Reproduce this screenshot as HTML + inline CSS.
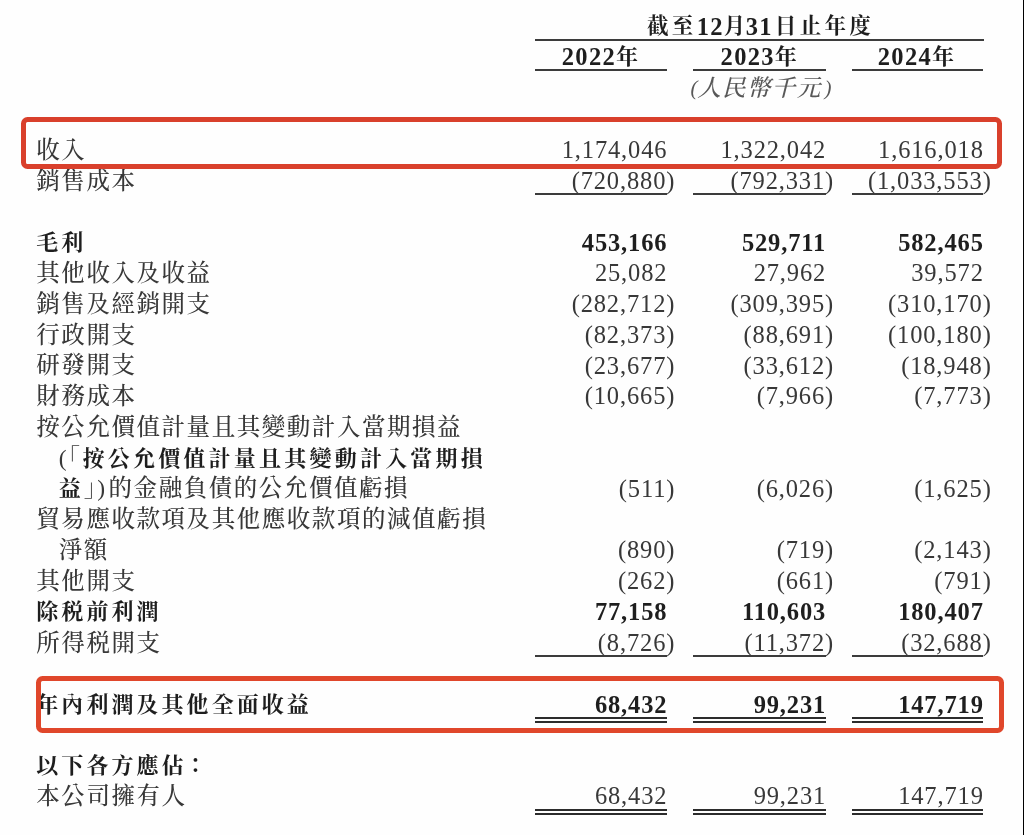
<!DOCTYPE html>
<html lang="zh-Hant">
<head>
<meta charset="utf-8">
<title>損益表</title>
<style>
html,body{margin:0;padding:0;}
body{width:1024px;height:835px;overflow:hidden;background:#fefefe;position:relative;
 font-family:"Liberation Serif","Noto Serif CJK SC",serif;color:#383838;font-size:23.5px;}
.pg{position:absolute;left:0;top:0;width:1024px;height:835px;filter:blur(0.45px)}
.t{position:absolute;white-space:nowrap;line-height:30px;height:30px;}
.l{letter-spacing:1.55px;font-weight:500}
.n{letter-spacing:0.85px;text-align:right;font-size:24.5px}
.b{font-weight:700;color:#1e1e1e}
.l.b,.l b{font-weight:700;color:#1e1e1e;font-size:22px;letter-spacing:3.05px}
.l b{position:relative;top:-0.1px}
.d{font-size:24.5px;letter-spacing:1.3px;position:relative;top:0.5px}
.p{font-size:21px;position:relative;top:-1px}
.co{position:relative;left:-2px;top:-0.5px}
.ln{position:absolute;height:2px;background:#3c3c3c;}
.box{position:absolute;border:5px solid #d9402c;border-radius:6.5px;box-sizing:border-box;}
.edge{position:absolute;right:0;top:0;width:1px;height:835px;background:#000}
</style>
</head>
<body>
<div class="pg">
<div class="t l b" style="font-size:21.5px;letter-spacing:3.35px;left:647px;top:10.23px;">截至<span class="d" style="top:1.5px">12</span>月<span class="d" style="top:1.5px;margin-left:-3px;margin-right:2px">31</span>日止年度</div>
<div class="ln" style="left:534.5px;top:38.5px;width:449px"></div>
<div class="t l b" style="left:561.8px;top:40.83px;"><span class="d" style="top:1.5px">2022</span>年</div>
<div class="ln" style="left:534.5px;top:69.3px;width:132.5px"></div>
<div class="t l b" style="left:720.6px;top:40.83px;"><span class="d" style="top:1.5px">2023</span>年</div>
<div class="ln" style="left:693px;top:69.3px;width:132.8px"></div>
<div class="t l b" style="left:877.8px;top:40.83px;"><span class="d" style="top:1.5px">2024</span>年</div>
<div class="ln" style="left:851.5px;top:69.3px;width:131.9px"></div>
<div class="t l" style="left:690.4px;top:72.57px;font-style:italic;color:#585858;letter-spacing:1.35px"><span class="p" style="margin-right:-1.5px">(</span>人民幣千元<span class="p" style="margin-left:3px">)</span></div>
<div class="t l" style="left:36.3px;top:135.22px;">收入</div>
<div class="t n" style="right:356.65px;top:135.28px;">1,174,046</div>
<div class="t n" style="right:197.85px;top:135.28px;">1,322,042</div>
<div class="t n" style="right:40.25px;top:135.28px;">1,616,018</div>
<div class="t l" style="left:36.3px;top:165.97px;">銷售成本</div>
<div class="t n" style="right:348.75px;top:166.03px;">(720,880)</div>
<div class="t n" style="right:189.95px;top:166.03px;">(792,331)</div>
<div class="t n" style="right:32.35px;top:166.03px;">(1,033,553)</div>
<div class="t l b" style="left:36.3px;top:227.88px;">毛利</div>
<div class="t n b" style="right:356.65px;top:227.53px;">453,166</div>
<div class="t n b" style="right:197.85px;top:227.53px;">529,711</div>
<div class="t n b" style="right:40.25px;top:227.53px;">582,465</div>
<div class="t l" style="left:36.3px;top:258.22px;">其他收入及收益</div>
<div class="t n" style="right:356.65px;top:258.28px;">25,082</div>
<div class="t n" style="right:197.85px;top:258.28px;">27,962</div>
<div class="t n" style="right:40.25px;top:258.28px;">39,572</div>
<div class="t l" style="left:36.3px;top:288.97px;">銷售及經銷開支</div>
<div class="t n" style="right:348.75px;top:289.03px;">(282,712)</div>
<div class="t n" style="right:189.95px;top:289.03px;">(309,395)</div>
<div class="t n" style="right:32.35px;top:289.03px;">(310,170)</div>
<div class="t l" style="left:36.3px;top:319.72px;">行政開支</div>
<div class="t n" style="right:348.75px;top:319.78px;">(82,373)</div>
<div class="t n" style="right:189.95px;top:319.78px;">(88,691)</div>
<div class="t n" style="right:32.35px;top:319.78px;">(100,180)</div>
<div class="t l" style="left:36.3px;top:350.47px;">研發開支</div>
<div class="t n" style="right:348.75px;top:350.53px;">(23,677)</div>
<div class="t n" style="right:189.95px;top:350.53px;">(33,612)</div>
<div class="t n" style="right:32.35px;top:350.53px;">(18,948)</div>
<div class="t l" style="left:36.3px;top:381.22px;">財務成本</div>
<div class="t n" style="right:348.75px;top:381.28px;">(10,665)</div>
<div class="t n" style="right:189.95px;top:381.28px;">(7,966)</div>
<div class="t n" style="right:32.35px;top:381.28px;">(7,773)</div>
<div class="t l" style="left:36.3px;top:411.97px;">按公允價值計量且其變動計入當期損益</div>
<div class="t l" style="left:58.8px;top:442.72px;">(「<b style="margin-left:1px;letter-spacing:3.22px">按公允價值計量且其變動計入當期損</b></div>
<div class="t l" style="left:58.8px;top:473.47px;"><b>益</b>」<span style="margin-right:2px">)</span>的金融負債的公允價值虧損</div>
<div class="t n" style="right:348.75px;top:473.53px;">(511)</div>
<div class="t n" style="right:189.95px;top:473.53px;">(6,026)</div>
<div class="t n" style="right:32.35px;top:473.53px;">(1,625)</div>
<div class="t l" style="left:36.3px;top:504.22px;">貿易應收款項及其他應收款項的減值虧損</div>
<div class="t l" style="left:58.8px;top:534.97px;">淨額</div>
<div class="t n" style="right:348.75px;top:535.03px;">(890)</div>
<div class="t n" style="right:189.95px;top:535.03px;">(719)</div>
<div class="t n" style="right:32.35px;top:535.03px;">(2,143)</div>
<div class="t l" style="left:36.3px;top:565.72px;">其他開支</div>
<div class="t n" style="right:348.75px;top:565.78px;">(262)</div>
<div class="t n" style="right:189.95px;top:565.78px;">(661)</div>
<div class="t n" style="right:32.35px;top:565.78px;">(791)</div>
<div class="t l b" style="left:36.3px;top:596.88px;">除税前利潤</div>
<div class="t n b" style="right:356.65px;top:596.53px;">77,158</div>
<div class="t n b" style="right:197.85px;top:596.53px;">110,603</div>
<div class="t n b" style="right:40.25px;top:596.53px;">180,407</div>
<div class="t l" style="left:36.3px;top:628.12px;">所得税開支</div>
<div class="t n" style="right:348.75px;top:628.18px;">(8,726)</div>
<div class="t n" style="right:189.95px;top:628.18px;">(11,372)</div>
<div class="t n" style="right:32.35px;top:628.18px;">(32,688)</div>
<div class="t l b" style="left:36.3px;top:690.02px;">年內利潤及其他全面收益</div>
<div class="t n b" style="right:356.65px;top:689.68px;">68,432</div>
<div class="t n b" style="right:197.85px;top:689.68px;">99,231</div>
<div class="t n b" style="right:40.25px;top:689.68px;">147,719</div>
<div class="t l b" style="left:36.3px;top:750.62px;">以下各方應佔<span class="co">：</span></div>
<div class="t l" style="left:36.3px;top:780.97px;">本公司擁有人</div>
<div class="t n" style="right:356.65px;top:781.03px;">68,432</div>
<div class="t n" style="right:197.85px;top:781.03px;">99,231</div>
<div class="t n" style="right:40.25px;top:781.03px;">147,719</div>
<div class="ln" style="left:534.5px;top:192.7px;width:132.5px"></div>
<div class="ln" style="left:534.5px;top:654.6px;width:132.5px"></div>
<div class="ln" style="left:534.5px;top:716.9px;width:132.5px;height:2.4px;background:#2c2c2c"></div>
<div class="ln" style="left:534.5px;top:720.7px;width:132.5px;height:2.4px;background:#2c2c2c"></div>
<div class="ln" style="left:534.5px;top:808.7px;width:132.5px;height:2.4px;background:#2c2c2c"></div>
<div class="ln" style="left:534.5px;top:812.6px;width:132.5px;height:2.4px;background:#2c2c2c"></div>
<div class="ln" style="left:693px;top:192.7px;width:132.8px"></div>
<div class="ln" style="left:693px;top:654.6px;width:132.8px"></div>
<div class="ln" style="left:693px;top:716.9px;width:132.8px;height:2.4px;background:#2c2c2c"></div>
<div class="ln" style="left:693px;top:720.7px;width:132.8px;height:2.4px;background:#2c2c2c"></div>
<div class="ln" style="left:693px;top:808.7px;width:132.8px;height:2.4px;background:#2c2c2c"></div>
<div class="ln" style="left:693px;top:812.6px;width:132.8px;height:2.4px;background:#2c2c2c"></div>
<div class="ln" style="left:851.5px;top:192.7px;width:131.9px"></div>
<div class="ln" style="left:851.5px;top:654.6px;width:131.9px"></div>
<div class="ln" style="left:851.5px;top:716.9px;width:131.9px;height:2.4px;background:#2c2c2c"></div>
<div class="ln" style="left:851.5px;top:720.7px;width:131.9px;height:2.4px;background:#2c2c2c"></div>
<div class="ln" style="left:851.5px;top:808.7px;width:131.9px;height:2.4px;background:#2c2c2c"></div>
<div class="ln" style="left:851.5px;top:812.6px;width:131.9px;height:2.4px;background:#2c2c2c"></div>
<div class="box" style="left:21px;top:117.2px;width:981px;height:51.9px"></div>
<div class="box" style="left:35.5px;top:675.7px;width:968px;height:57px;border-color:#e0472b"></div>
</div>
<div class="edge"></div>
</body>
</html>
